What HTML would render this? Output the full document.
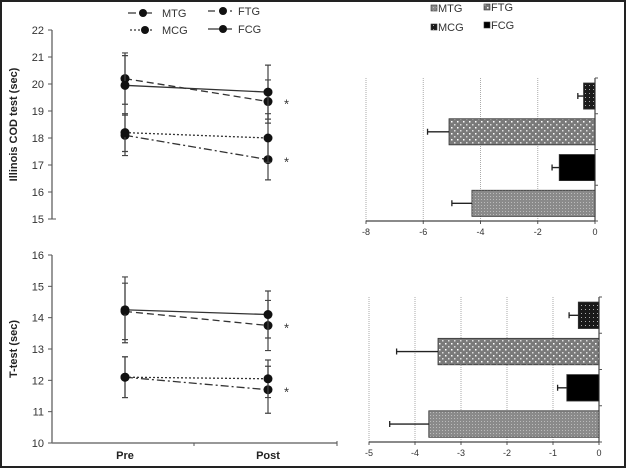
<!DOCTYPE html>
<html><head><meta charset="utf-8"><style>
html,body{margin:0;padding:0;background:#fff}
svg{display:block;font-family:"Liberation Sans",Arial,sans-serif}
</style></head><body>
<svg id="c" width="626" height="468" viewBox="0 0 626 468" xmlns="http://www.w3.org/2000/svg">
<defs>
<pattern id="pFTG" width="6" height="6" patternUnits="userSpaceOnUse"><rect width="6" height="6" fill="#7a7a7a"/><rect x="1" y="1" width="1.5" height="1.5" fill="#fff"/><rect x="4" y="4" width="1.5" height="1.5" fill="#ddd"/></pattern>
<pattern id="pMTG" width="3" height="3" patternUnits="userSpaceOnUse"><rect width="3" height="3" fill="#8a8a8a"/><rect x="1" y="1" width="1" height="1" fill="#bbb"/></pattern>
<pattern id="pMCG" width="4" height="4" patternUnits="userSpaceOnUse"><rect width="4" height="4" fill="#1a1a1a"/><rect x="1" y="1" width="1" height="1" fill="#aaa"/></pattern>
</defs>
<rect x="1" y="1" width="624" height="466" fill="#fff" stroke="#222" stroke-width="2"/>
<g id="leg"></g>
<g id="g"></g>
</svg>
<script>
const groups = ["MTG","MCG","FTG","FCG"];
const dashes = {MTG:"8 3 2 3", MCG:"2 2", FTG:"7 4", FCG:""};
// Illinois line chart
const codPre = [18.1, 18.2, 20.2, 19.95];
const codPost = [17.2, 18.0, 19.35, 19.7];
const codPreErr = [0.75, 0.7, 0.95, 1.1];
const codPostErr = [0.75, 0.9, 0.8, 1.0];
const codTicks = [15,16,17,18,19,20,21,22];
// T-test line chart
const tPre = [12.1, 12.1, 14.2, 14.25];
const tPost = [11.7, 12.05, 13.75, 14.1];
const tPreErr = [0.65, 0.65, 0.9, 1.05];
const tPostErr = [0.75, 0.6, 0.8, 0.75];
const tTicks = [10,11,12,13,14,15,16];
// Bar charts (change, top to bottom)
const barOrder = ["MCG","FTG","FCG","MTG"];
const codChange = [-0.4, -5.1, -1.25, -4.3];
const codChangeErr = [0.2, 0.75, 0.25, 0.7];
const codBarTicks = [-8,-6,-4,-2,0];
const tChange = [-0.45, -3.5, -0.7, -3.7];
const tChangeErr = [0.2, 0.9, 0.2, 0.85];
const tBarTicks = [-5,-4,-3,-2,-1,0];

const NS="http://www.w3.org/2000/svg";
const G=document.getElementById('g');
function el(tag,a,p){const e=document.createElementNS(NS,tag);for(const k in a)e.setAttribute(k,a[k]);(p||G).appendChild(e);return e;}
function txt(x,y,s,a,p){const t=el('text',Object.assign({x:x,y:y},a),p);t.textContent=s;return t;}

function lineChart(name,pre,post,preE,postE,ticks,y0,y1,xAxis,title,stars){
  const g=el('g',{});
  
  
  const lo=ticks[0],hi=ticks[ticks.length-1];
  const Y=v=>y1-(v-lo)/(hi-lo)*(y1-y0);
  const xPre=125,xPost=268,ax=52;
  const a=el('line',{x1:ax,y1:y0,x2:ax,y2:y1,stroke:'#555','stroke-width':1.2},g);
  
  ticks.forEach(t=>{
    el('line',{x1:ax-4,y1:Y(t),x2:ax+(t===lo&&!xAxis?4:0),y2:Y(t),stroke:'#555'},g);
    const l=txt(44,Y(t)+4,String(t),{'font-size':11,'text-anchor':'end',fill:'#333'},g);
    
  });
  if(xAxis){
    const xl=el('line',{x1:ax,y1:y1,x2:337,y2:y1,stroke:'#777','stroke-width':1.5},g);
    
    el('line',{x1:194,y1:y1,x2:194,y2:y1+3,stroke:'#555'},g);
    el('line',{x1:337,y1:y1-2,x2:337,y2:y1+3,stroke:'#555'},g);
    const p=txt(xPre,y1+16,'Pre',{'font-size':11,'font-weight':'bold','text-anchor':'middle',fill:'#222'},g);
    
    const q=txt(xPost,y1+16,'Post',{'font-size':11,'font-weight':'bold','text-anchor':'middle',fill:'#222'},g);
    
  }
  const yc=(y0+y1)/2;
  const tt=txt(17,yc,title,{'font-size':11,'font-weight':'bold','text-anchor':'middle',fill:'#222',transform:`rotate(-90 17 ${yc})`},g);
  
  groups.forEach((k,i)=>{
    [[xPre,pre[i],preE[i]],[xPost,post[i],postE[i]]].forEach(([x,v,e])=>{
      const b=el('path',{d:`M${x},${Y(v+e)}V${Y(v-e)}M${x-3},${Y(v+e)}h6M${x-3},${Y(v-e)}h6`,stroke:'#444','stroke-width':1.2,fill:'none'},g);
      
    });
    const ln=el('line',{x1:xPre,y1:Y(pre[i]),x2:xPost,y2:Y(post[i]),stroke:'#333','stroke-width':1.3,'stroke-dasharray':dashes[k]},g);
    
    [[xPre,pre[i]],[xPost,post[i]]].forEach(([x,v])=>{
      const c=el('circle',{cx:x,cy:Y(v),r:4.5,fill:'#111'},g);
      
    });
  });
  stars.forEach(i=>{
    const s=txt(284,Y(post[i])+7,'*',{'font-size':13,fill:'#333'},g);
    
  });
}
lineChart('illinois-line-chart',codPre,codPost,codPreErr,codPostErr,codTicks,30,219,false,'Illinois COD test (sec)',[0,2]);
lineChart('ttest-line-chart',tPre,tPost,tPreErr,tPostErr,tTicks,255,443,true,'T-test (sec)',[0,2]);

const fills={MTG:'url(#pMTG)',FTG:'url(#pFTG)',MCG:'url(#pMCG)',FCG:'#000'};
function barChart(name,vals,errs,ticks,x0,x1,y0,y1){
  const g=el('g',{});
  
  
  const lo=ticks[0];
  const X=v=>x1-(v/lo)*(x1-x0);
  ticks.forEach(t=>{
    if(t!==0){const gl=el('line',{x1:X(t),y1:y0,x2:X(t),y2:y1,stroke:'#aaa','stroke-dasharray':'1 1'},g);
      }
    el('line',{x1:X(t),y1:y1,x2:X(t),y2:y1+3,stroke:'#555'},g);
    const l=txt(X(t),y1+14,String(t),{'font-size':9,'text-anchor':'middle',fill:'#333'},g);
    
  });
  const xa=el('line',{x1:x0,y1:y1,x2:x1,y2:y1,stroke:'#444','stroke-width':1.2},g);
  
  const ya=el('line',{x1:x1,y1:y0,x2:x1,y2:y1,stroke:'#444','stroke-width':1.2},g);
  
  const band=(y1-y0)/vals.length;
  for(let i=0;i<=vals.length;i++) el('line',{x1:x1,y1:y0+i*band,x2:x1+3,y2:y0+i*band,stroke:'#555'},g);
  vals.forEach((v,i)=>{
    const k=barOrder[i];
    const by=y0+i*band+band*0.14,bh=band*0.73;
    const r=el('rect',{x:X(v),y:by,width:X(0)-X(v),height:bh,fill:fills[k],stroke:'#333','stroke-width':0.8},g);
    
    const cy=by+bh/2,xe=X(v-errs[i]);
    const e=el('path',{d:`M${X(v)},${cy}H${xe}M${xe},${cy-3}v6`,stroke:'#222','stroke-width':1.3,fill:'none'},g);
    
  });
}
barChart('illinois-change-bar-chart',codChange,codChangeErr,codBarTicks,366,595,78,221);
barChart('ttest-change-bar-chart',tChange,tChangeErr,tBarTicks,369,599,297,442);

// legends
const L=document.getElementById('leg');
const lineLeg=[["MTG",128,13,162],["FTG",208,11,238],["MCG",130,30,162],["FCG",208,29,238]];
lineLeg.forEach(([k,x,y,tx])=>{
  const g=el('g',{},L);
  
  
  el('line',{x1:x,y1:y,x2:x+24,y2:y,stroke:'#333','stroke-width':1.2,'stroke-dasharray':dashes[k]},g);
  el('circle',{cx:x+15,cy:y,r:4,fill:'#111'},g);
  txt(tx,y+4,k,{'font-size':11,fill:'#333'},g);
});
const barLeg=[["MTG",431,8],["FTG",484,7],["MCG",431,27],["FCG",484,25]];
barLeg.forEach(([k,x,y])=>{
  const g=el('g',{},L);
  
  
  el('rect',{x:x,y:y-3,width:6,height:6,fill:fills[k],stroke:'#333','stroke-width':0.6},g);
  txt(x+7,y+4,k,{'font-size':11,fill:'#333'},g);
});
</script>
</body></html>
